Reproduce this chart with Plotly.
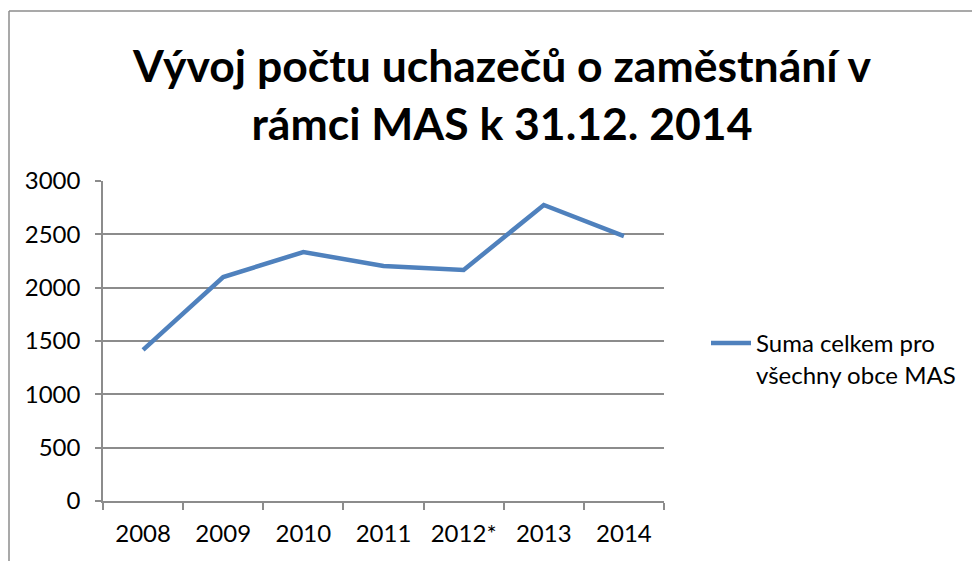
import plotly.graph_objects as go

categories = ["2008", "2009", "2010", "2011", "2012*", "2013", "2014"]
values = [1416, 2100, 2334, 2203, 2166, 2775, 2484]
series_name = "Suma celkem pro<br>všechny obce MAS"
title_text = "Vývoj počtu uchazečů o zaměstnání v<br>rámci MAS k 31.12. 2014"

FONT = "Lato"
# page is rendered with an 8px body margin, so design coords are page - 8
L, R, T, B = 95, 324, 173, 68
W, H = 980, 561
pw, ph = W - L - R, H - T - B

def px(x):
    return (x - L) / pw

def py(y):
    return (H - B - y) / ph

fig = go.Figure()
fig.add_trace(go.Scatter(
    x=categories, y=values, mode="lines", name=series_name,
    line=dict(color="#4F81BD", width=4.5),
))

fig.update_layout(
    width=W, height=H,
    margin=dict(l=L, r=R, t=T, b=B),
    paper_bgcolor="white", plot_bgcolor="white",
    font=dict(family=FONT, color="#000000", size=24),
    title=dict(text=title_text, x=494 / W, xanchor="center", y=1 - 74 / H, yanchor="middle",
               font=dict(family=FONT, size=44.5, color="#000000", weight="bold")),
    showlegend=True,
    legend=dict(x=px(698), y=py(313), xanchor="left", yanchor="top", valign="top",
                font=dict(family=FONT, size=24, color="#000000"),
                bgcolor="rgba(0,0,0,0)", itemwidth=40),
    xaxis=dict(type="category", showgrid=False, showline=True, linecolor="#8c8c8c",
               linewidth=1.5, ticks="outside", tickson="boundaries", ticklen=7,
               tickcolor="#8c8c8c", tickwidth=1.5, tickfont=dict(size=24),
               ticklabelstandoff=10, range=[-0.5, 6.5], zeroline=False),
    yaxis=dict(range=[0, 3000], dtick=500, showgrid=True, gridcolor="#8c8c8c",
               gridwidth=1.5, showline=True, linecolor="#8c8c8c", linewidth=1.5,
               ticks="outside", ticklen=6, tickcolor="#8c8c8c", tickwidth=1.5,
               tickfont=dict(size=24), ticklabelstandoff=10, zeroline=False),
    shapes=[
        dict(type="line", xref="paper", yref="paper", x0=px(1), x1=px(990), y0=py(3), y1=py(3),
             line=dict(color="#8c8c8c", width=1.5)),
        dict(type="line", xref="paper", yref="paper", x0=px(1), x1=px(1), y0=py(3), y1=py(570),
             line=dict(color="#8c8c8c", width=1.5)),
    ],
)

fig.write_html("out.html")
